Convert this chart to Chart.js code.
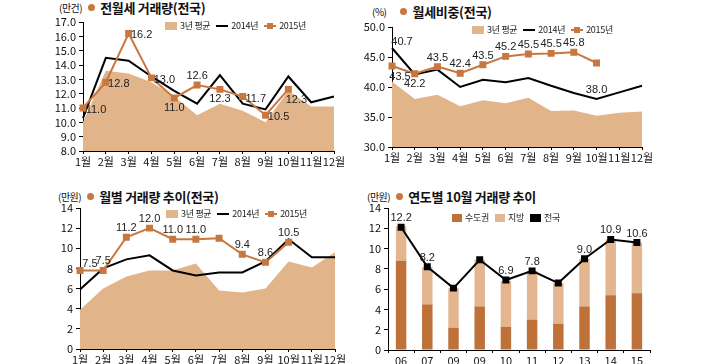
<!DOCTYPE html>
<html>
<head>
<meta charset="utf-8">
<script src="https://cdn.jsdelivr.net/npm/chart.js@4.4.0/dist/chart.umd.min.js"></script>
<style>
  body { margin: 0; background: #fff; font-family: "Noto Sans CJK KR", sans-serif; }
  #wrap { position: relative; width: 709px; height: 364px; overflow: hidden; }
  .panel { position: absolute; }
  .title { position: absolute; white-space: nowrap; color: #111; display: flex; align-items: center; height: 14px; }
  .title .unit { font-size: 10px; margin-right: 6px; letter-spacing: -0.5px; }
  .title .dot { width: 7px; height: 7px; border-radius: 50%; background: #c8773f; margin-right: 5px; }
  .title .main { font-size: 13px; font-weight: bold; letter-spacing: -0.3px; }
  .legend { position: absolute; white-space: nowrap; font-size: 9px; color: #222; display: flex; align-items: center; letter-spacing: -0.3px; }
  .legend span.item { display: inline-flex; align-items: center; margin-right: 6px; }
  .legend i { display: inline-block; margin-right: 3px; position: relative; }
</style>
</head>
<body>
<div id="wrap">
  <div class="title" style="left:59px;top:0px"><span class="unit">(만건)</span><span class="dot"></span><span class="main">전월세 거래량(전국)</span></div>
  <div class="title" style="left:372px;top:4px"><span class="unit">(%)</span><span class="dot" style="margin-left:8px"></span><span class="main">월세비중(전국)</span></div>
  <div class="title" style="left:58px;top:189px"><span class="unit">(만원)</span><span class="dot"></span><span class="main">월별 거래량 추이(전국)</span></div>
  <div class="title" style="left:367px;top:189px"><span class="unit">(만원)</span><span class="dot"></span><span class="main">연도별 10월 거래량 추이</span></div>

  <div class="panel" style="left:0px;top:0px;width:355px;height:170px"><canvas id="c1"></canvas></div>
  <div class="panel" style="left:355px;top:0px;width:354px;height:170px"><canvas id="c2"></canvas></div>
  <div class="panel" style="left:0px;top:180px;width:355px;height:184px"><canvas id="c3"></canvas></div>
  <div class="panel" style="left:355px;top:180px;width:354px;height:184px"><canvas id="c4"></canvas></div>

  <div class="legend" id="lg1" style="left:165px;top:19px"></div>
  <div class="legend" id="lg2" style="left:472px;top:23px"></div>
  <div class="legend" id="lg3" style="left:166px;top:207px"></div>
  <div class="legend" id="lg4" style="left:452px;top:211px"></div>
</div>
<script>
// ---- data ----
const months = ["1월","2월","3월","4월","5월","6월","7월","8월","9월","10월","11월","12월"];

// 전월세 거래량 (만건)
const vol_avg3 = [10.0, 13.6, 13.4, 12.8, 11.8, 10.5, 11.3, 10.8, 10.0, 12.2, 11.1, 11.1];
const vol_2014 = [10.3, 14.5, 14.3, 13.2, 12.2, 11.3, 13.3, 11.3, 10.9, 13.2, 11.4, 11.8];
const vol_2015 = [11.0, 12.8, 16.2, 13.1, 11.7, 12.6, 12.3, 11.8, 10.5, 12.3];
const vol_2015_text = ["11.0","12.8","16.2","13.0","11.0","12.6","12.3","11.7","10.5","12.3"];

// 월세비중 (%)
const rent_avg3 = [40.9, 38.0, 38.7, 36.8, 37.8, 37.3, 38.2, 36.0, 36.1, 35.2, 35.7, 35.9];
const rent_2014 = [46.5, 42.1, 42.9, 40.0, 41.2, 40.8, 41.5, 40.2, 39.0, 38.0, 39.1, 40.2];
const rent_2015 = [43.5, 42.2, 43.4, 42.3, 43.7, 45.1, 45.5, 45.6, 45.8, 44.0];
const rent_2015_text = ["43.5","42.2","43.5","42.4","43.5","45.2","45.5","45.5","45.8",""];
const rent_2014_text = ["40.7","","","","","","","","","38.0","",""];

// 월별 거래량 추이 (만원)
const mon_avg3 = [3.9, 6.0, 7.2, 7.8, 7.8, 8.5, 5.8, 5.6, 6.0, 8.7, 8.1, 9.6];
const mon_2014 = [5.9, 8.0, 8.9, 9.3, 7.8, 7.3, 7.6, 7.6, 8.7, 10.9, 9.1, 9.1];
const mon_2015 = [7.8, 7.8, 11.1, 12.0, 10.9, 10.9, 11.0, 9.4, 8.6, 10.6];
const mon_2015_text = ["7.5","7.5","11.2","12.0","11.0","11.0","","9.4","8.6","10.5"];

// 연도별 10월 거래량 (만원)
const years = ["06","07","09","09","10","11","12","13","14","15"];
const oct_capital = [8.8, 4.5, 2.2, 4.3, 2.3, 3.0, 2.6, 4.3, 5.4, 5.6];
const oct_local   = [3.4, 3.7, 3.9, 4.6, 4.5, 4.8, 4.0, 4.7, 5.5, 5.0];
const oct_total   = [12.1, 8.2, 6.1, 8.9, 6.9, 7.8, 6.6, 9.0, 10.9, 10.6];
const oct_total_text = ["12.2","8.2","","","6.9","7.8","","9.0","10.9","10.6"];

// label placement codes
const vol_anchor  = ["r","r","r","r","b","a","b","r","r","rb"];
const rent15_anchor = ["rb","b","a","a","a","a","a","a","a","a"];
const rent14_anchor = ["ra","a","a","a","a","a","a","a","a","a","a","a"];
const mon_anchor  = ["ra","a","a","a","a","a","a","a","a","a"];
const oct_anchor  = ["a","a","a","a","a","a","a","a","a","a"];

// ---- style ----
const C_AREA = "#e2b48a";
const C_2015 = "#c8773f";
const C_CAP = "#bf713a";
const C_LOC = "#e3b68f";
const TICK_FONT = { family: "'Liberation Sans Narrow', 'Noto Sans CJK KR', sans-serif", size: 11 };
const LABEL_FONT = "11px 'Liberation Sans Narrow', 'Liberation Sans', sans-serif";

const OFFS = { a: [0, -9], b: [0, 10], r: [13, 2], rb: [8, 11], ra: [10, -6] };

const pointLabels = {
  id: "pointLabels",
  afterDatasetsDraw(chart, args, opts) {
    const ctx = chart.ctx;
    ctx.save();
    ctx.font = LABEL_FONT;
    ctx.fillStyle = "#222";
    ctx.textAlign = "center";
    ctx.textBaseline = "middle";
    (opts.sets || []).forEach(function (s) {
      const meta = chart.getDatasetMeta(s.ds);
      meta.data.forEach(function (el, i) {
        const t = s.texts[i];
        if (!t) return;
        const o = OFFS[s.anchors[i]] || OFFS.a;
        ctx.fillText(t, el.x + o[0], el.y + o[1]);
      });
    });
    ctx.restore();
  }
};

function axisX(h, offset) {
  return {
    offset: offset,
    grid: { display: true, drawOnChartArea: false, drawTicks: true, tickLength: 3, color: "#000", offset: offset },
    border: { display: true, color: "#000", width: 1 },
    ticks: { color: "#111", font: TICK_FONT, padding: 1, maxRotation: 0, autoSkip: false },
    afterFit: function (s) { s.height = h; }
  };
}
function axisY(w, min, max, step, dec) {
  return {
    min: min, max: max,
    grid: { display: true, drawOnChartArea: false, drawTicks: true, tickLength: 4, color: "#000" },
    border: { display: true, color: "#000", width: 1 },
    ticks: {
      stepSize: step, color: "#111", font: TICK_FONT, padding: 3, autoSkip: false,
      callback: function (v) { return dec ? v.toFixed(dec) : v; }
    },
    afterFit: function (s) { s.width = w; }
  };
}

function areaDs(data) {
  return { label: "3년 평균", data: data, backgroundColor: C_AREA, borderWidth: 0, pointRadius: 0, fill: "start", order: 3, tension: 0 };
}
function blackDs(data) {
  return { label: "2014년", data: data, borderColor: "#000", borderWidth: 2, pointRadius: 0, fill: false, order: 2 };
}
function orangeDs(data) {
  return { label: "2015년", data: data, borderColor: C_2015, backgroundColor: C_2015, borderWidth: 2,
           pointStyle: "rect", pointRadius: 3.5, fill: false, order: 1 };
}

const common = {
  responsive: true,
  maintainAspectRatio: false,
  animation: false
};

function opts(pad, sx, sy, labelSets) {
  const o = Object.assign({}, common);
  o.plugins = { legend: { display: false }, tooltip: { enabled: false }, pointLabels: { sets: labelSets } };
  o.layout = { padding: pad };
  o.scales = { x: sx, y: sy };
  return o;
}

Chart.register(pointLabels);

new Chart("c1", {
  type: "line",
  data: { labels: months, datasets: [areaDs(vol_avg3), blackDs(vol_2014), orangeDs(vol_2015)] },
  options: opts({ left: 0, top: 22, right: 21, bottom: 0 },
    axisX(19, false), axisY(83, 8, 17, 1, 1),
    [{ ds: 2, texts: vol_2015_text, anchors: vol_anchor }])
});

new Chart("c2", {
  type: "line",
  data: { labels: months, datasets: [areaDs(rent_avg3), blackDs(rent_2014), orangeDs(rent_2015)] },
  options: opts({ left: 0, top: 27, right: 67, bottom: 4 },
    axisX(19, false), axisY(37, 30, 50, 5, 1),
    [{ ds: 2, texts: rent_2015_text, anchors: rent15_anchor },
     { ds: 1, texts: rent_2014_text, anchors: rent14_anchor }])
});

new Chart("c3", {
  type: "line",
  data: { labels: months, datasets: [areaDs(mon_avg3), blackDs(mon_2014), orangeDs(mon_2015)] },
  options: opts({ left: 0, top: 28, right: 20, bottom: 0 },
    axisX(15, false), axisY(80, 0, 14, 2, 0),
    [{ ds: 2, texts: mon_2015_text, anchors: mon_anchor }])
});

const o4 = opts({ left: 0, top: 28, right: 59, bottom: 0 },
  axisX(14, true), axisY(33, 0, 14, 2, 0),
  [{ ds: 2, texts: oct_total_text, anchors: oct_anchor }]);
o4.scales.x.stacked = true;
o4.scales.y.stacked = true;
new Chart("c4", {
  type: "bar",
  data: {
    labels: years,
    datasets: [
      { label: "수도권", data: oct_capital, backgroundColor: C_CAP, stack: "s", order: 2, barPercentage: 0.4, categoryPercentage: 1 },
      { label: "지방", data: oct_local, backgroundColor: C_LOC, stack: "s", order: 2, barPercentage: 0.4, categoryPercentage: 1 },
      { type: "line", label: "전국", data: oct_total, stack: "t", borderColor: "#000", backgroundColor: "#000",
        borderWidth: 2, pointStyle: "rect", pointRadius: 3.5, order: 0 }
    ]
  },
  options: o4
});

// ---- legends ----
function legend(id, items) {
  const el = document.getElementById(id);
  items.forEach(function (it) {
    const s = document.createElement("span");
    s.className = "item";
    const i = document.createElement("i");
    if (it.kind === "box") {
      i.style.cssText = "width:" + it.w + "px;height:8px;background:" + it.color;
    } else {
      i.style.cssText = "width:12px;height:2px;background:" + it.color;
      if (it.kind === "mark") {
        const m = document.createElement("b");
        m.style.cssText = "position:absolute;left:3px;top:-2px;width:6px;height:6px;background:" + it.color;
        i.appendChild(m);
      }
    }
    s.appendChild(i);
    s.appendChild(document.createTextNode(it.text));
    el.appendChild(s);
  });
}
const lineLegend = [
  { kind: "box", w: 12, color: C_AREA, text: "3년 평균" },
  { kind: "line", color: "#000", text: "2014년" },
  { kind: "mark", color: C_2015, text: "2015년" }
];
legend("lg1", lineLegend);
legend("lg2", lineLegend);
legend("lg3", lineLegend);
legend("lg4", [
  { kind: "box", w: 10, color: C_CAP, text: "수도권" },
  { kind: "box", w: 10, color: C_LOC, text: "지방" },
  { kind: "box", w: 11, color: "#000", text: "전국" }
]);
</script>
</body>
</html>
